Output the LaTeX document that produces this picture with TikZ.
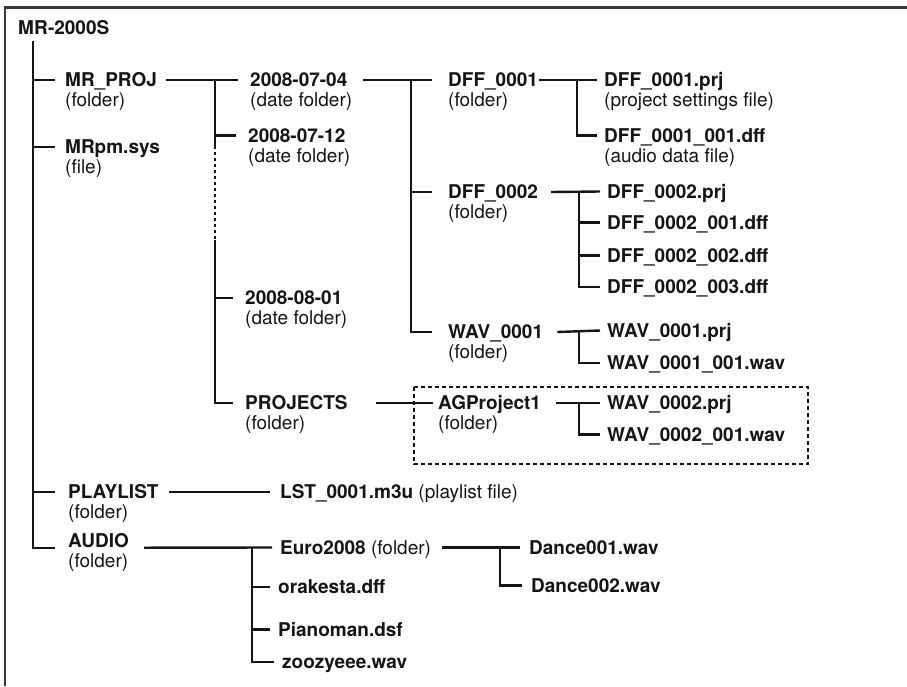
\documentclass[tikz,border=0pt]{standalone}
\usepackage{fontspec}
\setmainfont{TeX Gyre Heros}
\usepackage{tikz}
\usetikzlibrary{positioning,calc}
\definecolor{cInk}{HTML}{151515}
\definecolor{cFrame}{HTML}{3A3A3A}
\tikzset{
  fname/.style={anchor=base west, inner sep=0pt, text height=13pt, text depth=0pt,
                font=\fontsize{19}{20}\selectfont\bfseries, cInk},
  fdesc/.style={anchor=base west, inner sep=0pt, font=\fontsize{19}{20}\selectfont, cInk},
  tree/.style={cInk, line width=2.4pt},
  dotbus/.style={tree, dash pattern=on 3pt off 3pt},
  grp/.style={cInk, line width=2.2pt, dash pattern=on 4pt off 3pt}
}
\newcommand{\descline}[2]{\node[fdesc] (#1-d) at ([yshift=-20pt]#1.base west) {#2};}

\begin{document}
\begin{tikzpicture}[x=1pt, y=-1pt]
\useasboundingbox (0,0) rectangle (907,686);
% frame, cut off at right and bottom
\draw[cFrame, line width=2.2pt] (5,686) -- (5,7.5) -- (907,7.5);

% card root and first level
\node[fname] (root) at (18,34) {MR-2000S};
\node[fname] (mrproj) at (65,86.5) {MR\_PROJ};      \descline{mrproj}{(folder)}
\node[fname] (mrpm) at (65,153.5) {MRpm.sys};       \descline{mrpm}{(file)}
\node[fname] (playlist) at (68,498.5) {PLAYLIST};   \descline{playlist}{(folder)}
\node[fname] (audio) at (68,547.5) {AUDIO};         \descline{audio}{(folder)}

% MR_PROJ contents
\node[fname] (d0704) at (250,86.5) {2008-07-04};     \descline{d0704}{(date folder)}
\node[fname] (d0712) at (248,142) {2008-07-12};      \descline{d0712}{(date folder)}
\node[fname] (d0801) at (245,304.5) {2008-08-01};    \descline{d0801}{(date folder)}
\node[fname] (projects) at (245,409.5) {PROJECTS};   \descline{projects}{(folder)}

\node[fname] (dff1) at (448,86.5) {DFF\_0001};       \descline{dff1}{(folder)}
\node[fname] (dff2) at (448,198.5) {DFF\_0002};      \descline{dff2}{(folder)}
\node[fname] (wav1) at (448,338.5) {WAV\_0001};      \descline{wav1}{(folder)}
\node[fname] (agp) at (438,409.5) {AGProject1};      \descline{agp}{(folder)}

\node[fname] (dff1prj) at (604,86.5) {DFF\_0001.prj};     \descline{dff1prj}{(project settings file)}
\node[fname] (dff1dff) at (604,142) {DFF\_0001\_001.dff};  \descline{dff1dff}{(audio data file)}
\foreach \n/\y/\t in {dff2prj/198/DFF\_0002.prj, dff2a/229/DFF\_0002\_001.dff,
    dff2b/262/DFF\_0002\_002.dff, dff2c/293.5/DFF\_0002\_003.dff,
    wav1prj/337/WAV\_0001.prj, wav1wav/369.5/WAV\_0001\_001.wav,
    wav2prj/409.5/WAV\_0002.prj, wav2wav/441/WAV\_0002\_001.wav}
  \node[fname] (\n) at (607,\y) {\t};

% PLAYLIST and AUDIO contents
\node[fname] (lst) at (280,498.5) {LST\_0001.m3u {\mdseries (playlist file)}};
\node[fname] (euro) at (280,554) {Euro2008 {\mdseries (folder)}};
\node[fname] (orak) at (278,593.5) {orakesta.dff};
\node[fname] (piano) at (278,636) {Pianoman.dsf};
\node[fname] (zooz) at (282,668.5) {zoozyeee.wav};
\node[fname] (dance1) at (529,554) {Dance001.wav};
\node[fname] (dance2) at (531,592) {Dance002.wav};

% root bus
\coordinate (bus0) at (33,41);
\draw[tree] (bus0) |- ([xshift=-13pt]audio.south west);
\foreach \n/\g in {mrproj/10,mrpm/10,playlist/13}
  \draw[tree] (bus0 |- \n.west) -- ([xshift=-\g pt]\n.west);

% MR_PROJ bus, with the gap for the skipped dates
\coordinate (bus1) at (215,0);
\coordinate (gapA) at (215,146);
\coordinate (gapB) at (215,240);
\draw[tree] ([xshift=9pt]mrproj.east) -- ([xshift=-12pt]d0704.west);
\draw[tree] (bus1 |- d0704.west) -- (gapA);
\draw[dotbus] (gapA) -- (gapB);
\draw[tree] (gapB) |- ([xshift=-12pt]projects.west);
\foreach \n in {d0712,d0801}
  \draw[tree] (bus1 |- \n.west) -- ([xshift=-12pt]\n.west);

% 2008-07-04
\coordinate (bus2) at (411,0);
\draw[tree] ([xshift=15pt]d0704.east) -- ([xshift=-16pt]dff1.west);
\draw[tree] (bus2 |- dff1.west) |- ([xshift=-16pt]wav1.west);
\draw[tree] (bus2 |- dff2.west) -- ([xshift=-16pt]dff2.west);

% DFF_0001
\coordinate (bus3) at (577,0);
\draw[tree] ([xshift=1pt]dff1.east) -- ([xshift=-7pt]dff1prj.west);
\draw[tree] (bus3 |- dff1prj.west) |- ([xshift=-7pt]dff1dff.west);

% DFF_0002, WAV_0001, AGProject1
\coordinate (bus4) at (579,0);
\draw[tree] ([xshift=13pt]dff2.east) -- ([xshift=-7pt]dff2prj.west);
\draw[tree] (bus4 |- dff2prj.west) |- ([xshift=-7pt]dff2c.west);
\foreach \n in {dff2a,dff2b}
  \draw[tree] (bus4 |- \n.west) -- ([xshift=-7pt]\n.west);
\draw[tree] ([xshift=14pt]wav1.east) -- ([xshift=-7pt]wav1prj.west);
\draw[tree] (bus4 |- wav1prj.west) |- ([xshift=-7pt]wav1wav.west);
\draw[tree] ([xshift=28pt]projects.east) -- ([xshift=-5pt]agp.west);
\draw[tree] ([xshift=15pt]agp.east) -- ([xshift=-7pt]wav2prj.west);
\draw[tree] (bus4 |- wav2prj.west) |- ([xshift=-7pt]wav2wav.west);
\draw[grp] (414,387) rectangle (808,464);

% PLAYLIST
\draw[tree] ([xshift=10pt]playlist.east) -- ([xshift=-10pt]lst.west);

% AUDIO
\coordinate (bus7) at (252,0);
\draw[tree] ([xshift=15pt]audio.south east) -- ([xshift=-8pt]euro.west);
\draw[tree] (bus7 |- euro.west) |- ([xshift=-8pt]zooz.west);
\foreach \n in {orak,piano}
  \draw[tree] (bus7 |- \n.west) -- ([xshift=-8pt]\n.west);

% Euro2008
\coordinate (bus8) at (500,0);
\draw[tree] ([xshift=11pt]euro.east) -- ([xshift=-9pt]dance1.west);
\draw[tree] (bus8 |- dance1.west) |- ([xshift=-9pt]dance2.west);
\end{tikzpicture}
\end{document}
